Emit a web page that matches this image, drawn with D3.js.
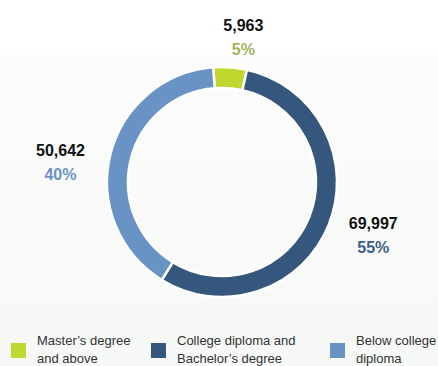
<!DOCTYPE html>
<html>
<head>
<meta charset="utf-8">
<script src="https://cdn.jsdelivr.net/npm/d3@7"></script>
<style>
  html, body { margin: 0; padding: 0; background: #fff; }
  svg { display: block; font-family: "Liberation Sans", Arial, sans-serif; }
</style>
</head>
<body>
<svg id="chart" width="438" height="366"></svg>
<script>
// Education breakdown
const categories = ["Master's degree and above", "College diploma and Bachelor's degree", "Below college diploma"];
const legendLines = [["Master\u2019s degree", "and above"], ["College diploma and", "Bachelor\u2019s degree"], ["Below college", "diploma"]];
const values = [5963, 69997, 50642];
const sliceColors = ["#bfd72f", "#36577d", "#6a93c5"];
const pctColors = ["#9db55c", "#3d5f89", "#6a93c5"];

const W = 438, H = 366;
const cx = 222, cy = 182, rOuter = 115, rInner = 94;
const startAngle = -0.077;

const svg = d3.select("#chart");

// soft background wash
const defs = svg.append("defs");
const grad = defs.append("linearGradient").attr("id", "bg").attr("x1", 0).attr("y1", 0).attr("x2", 0).attr("y2", 1);
grad.append("stop").attr("offset", 0).attr("stop-color", "#ffffff");
grad.append("stop").attr("offset", 0.13).attr("stop-color", "#ffffff");
grad.append("stop").attr("offset", 0.16).attr("stop-color", "#fbfcfb");
grad.append("stop").attr("offset", 1).attr("stop-color", "#f6f8f6");
svg.append("rect").attr("width", W).attr("height", H).attr("fill", "url(#bg)");

const total = d3.sum(values);
const pie = d3.pie().sort(null).value(d => d)
  .startAngle(startAngle).endAngle(startAngle + 2 * Math.PI);
const arcs = pie(values);
const arc = d3.arc().innerRadius(rInner).outerRadius(rOuter);

const g = svg.append("g").attr("transform", `translate(${cx},${cy})`);
g.selectAll("path.slice").data(arcs).join("path")
  .attr("class", "slice")
  .attr("d", arc)
  .attr("fill", (d, i) => sliceColors[i])
  .attr("stroke", "#fff")
  .attr("stroke-width", 2.5);

// labels sit outside the ring, nudged from the slice's mid-angle point
const labelArc = d3.arc().innerRadius(rOuter + 45).outerRadius(rOuter + 45);
const nudges = [[10, 9], [3, -13], [-6, 12]];
const lbl = svg.append("g").attr("transform", `translate(${cx},${cy})`);
arcs.forEach((d, i) => {
  const [x, y] = labelArc.centroid(d);
  const lx = x + nudges[i][0], ly = y + nudges[i][1];
  lbl.append("text")
    .attr("x", lx).attr("y", ly)
    .attr("text-anchor", "middle")
    .attr("font-size", 16).attr("font-weight", "bold").attr("fill", "#111")
    .text(d3.format(",")(values[i]));
  lbl.append("text")
    .attr("x", lx).attr("y", ly + 24)
    .attr("text-anchor", "middle")
    .attr("font-size", 16).attr("font-weight", "bold").attr("fill", pctColors[i])
    .text(d3.format(".0%")(values[i] / total));
});

// legend
const legendPos = [11, 151, 330];
const leg = svg.append("g");
categories.forEach((c, i) => {
  const item = leg.append("g").attr("transform", `translate(${legendPos[i]},343)`);
  item.append("rect").attr("width", 15).attr("height", 15).attr("fill", sliceColors[i]);
  legendLines[i].forEach((t, j) => {
    item.append("text")
      .attr("x", 26).attr("y", 2 + j * 18)
      .attr("font-size", 13).attr("fill", "#333")
      .text(t);
  });
});
</script>
</body>
</html>
